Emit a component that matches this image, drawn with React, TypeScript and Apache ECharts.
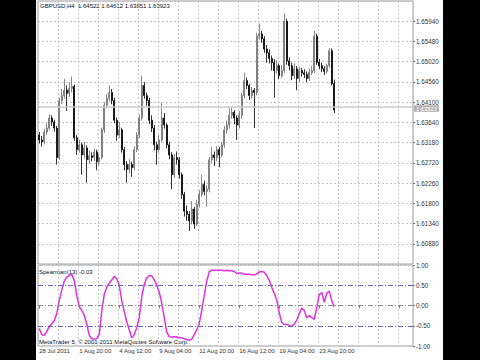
import React, { useEffect, useRef } from 'react';
import * as echarts from 'echarts';

const titleText = 'GBPUSD,H4  1.64522 1.64612 1.63851 1.63923';
const indicatorText = 'Spearman(13) -0.03';
const copyrightText = 'MetaTrader 5, © 2001-2011 MetaQuotes Software Corp.';
const lastPrice = 1.63923;

const timeLabels = ['28 Jul 2011', '1 Aug 20:00', '4 Aug 12:00', '9 Aug 04:00', '11 Aug 20:00', '16 Aug 12:00', '19 Aug 04:00', '23 Aug 20:00'];
const SLOT_COUNT = 150;
const LABEL_STEP = 16;

const opens = [
  1.6335, 1.6324, 1.6320, 1.6342, 1.6351, 1.6374, 1.6365, 1.6351, 1.6284, 1.6414,
  1.6425, 1.6437, 1.6430, 1.6441, 1.6446, 1.6329, 1.6302, 1.6313, 1.6290, 1.6306,
  1.6279, 1.6288, 1.6284, 1.6297, 1.6275, 1.6284, 1.6347, 1.6403, 1.6419, 1.6432,
  1.6414, 1.6369, 1.6335, 1.6347, 1.6302, 1.6268, 1.6257, 1.6268, 1.6261, 1.6302,
  1.6335, 1.6374, 1.6448, 1.6425, 1.6414, 1.6369, 1.6351, 1.6313, 1.6302, 1.6324,
  1.6374, 1.6358, 1.6313, 1.6290, 1.6245, 1.6284, 1.6279, 1.6245, 1.6200, 1.6162,
  1.6155, 1.6140, 1.6167, 1.6133, 1.6178, 1.6200, 1.6223, 1.6207, 1.6212, 1.6279,
  1.6290, 1.6284, 1.6302, 1.6290, 1.6313, 1.6347, 1.6358, 1.6380, 1.6387, 1.6374,
  1.6358, 1.6380, 1.6425, 1.6459, 1.6448, 1.6425, 1.6437, 1.6432, 1.6560, 1.6565,
  1.6554, 1.6531, 1.6522, 1.6509, 1.6500, 1.6482, 1.6493, 1.6470, 1.6482, 1.6594,
  1.6504, 1.6493, 1.6470, 1.6486, 1.6464, 1.6482, 1.6477, 1.6473, 1.6464, 1.6477,
  1.6482, 1.6560, 1.6500, 1.6493, 1.6486, 1.6480, 1.6493, 1.6527, 1.64522,
];

const closes = [
  1.6324, 1.6320, 1.6342, 1.6351, 1.6374, 1.6365, 1.6351, 1.6284, 1.6414, 1.6425,
  1.6437, 1.6430, 1.6441, 1.6446, 1.6329, 1.6302, 1.6313, 1.6290, 1.6306, 1.6279,
  1.6288, 1.6284, 1.6297, 1.6275, 1.6284, 1.6347, 1.6403, 1.6419, 1.6432, 1.6414,
  1.6369, 1.6335, 1.6347, 1.6302, 1.6268, 1.6257, 1.6268, 1.6261, 1.6302, 1.6335,
  1.6374, 1.6448, 1.6425, 1.6414, 1.6369, 1.6351, 1.6313, 1.6302, 1.6324, 1.6374,
  1.6358, 1.6313, 1.6290, 1.6245, 1.6284, 1.6279, 1.6245, 1.6200, 1.6162, 1.6155,
  1.6140, 1.6167, 1.6133, 1.6178, 1.6200, 1.6223, 1.6207, 1.6212, 1.6279, 1.6290,
  1.6284, 1.6302, 1.6290, 1.6313, 1.6347, 1.6358, 1.6380, 1.6387, 1.6374, 1.6358,
  1.6380, 1.6425, 1.6459, 1.6448, 1.6425, 1.6437, 1.6432, 1.6560, 1.6565, 1.6554,
  1.6531, 1.6522, 1.6509, 1.6500, 1.6482, 1.6493, 1.6470, 1.6482, 1.6594, 1.6504,
  1.6493, 1.6470, 1.6486, 1.6464, 1.6482, 1.6477, 1.6473, 1.6464, 1.6477, 1.6482,
  1.6560, 1.6500, 1.6493, 1.6486, 1.6480, 1.6493, 1.6527, 1.64522, 1.63923,
];

const highs = [
  1.6342, 1.6333, 1.6350, 1.6362, 1.6383, 1.6380, 1.6370, 1.6356, 1.6420, 1.6440,
  1.6463, 1.6448, 1.6455, 1.6468, 1.6450, 1.6335, 1.6325, 1.6318, 1.6320, 1.6312,
  1.6300, 1.6296, 1.6305, 1.6302, 1.6292, 1.6352, 1.6410, 1.6428, 1.6448, 1.6440,
  1.6420, 1.6375, 1.6365, 1.6352, 1.6308, 1.6276, 1.6280, 1.6275, 1.6310, 1.6342,
  1.6382, 1.6470, 1.6456, 1.6432, 1.6420, 1.6380, 1.6358, 1.6320, 1.6335, 1.6409,
  1.6385, 1.6362, 1.6320, 1.6296, 1.6292, 1.6298, 1.6285, 1.6250, 1.6206, 1.6175,
  1.6162, 1.6185, 1.6172, 1.6188, 1.6210, 1.6245, 1.6232, 1.6222, 1.6286, 1.6308,
  1.6298, 1.6310, 1.6308, 1.6320, 1.6356, 1.6368, 1.6396, 1.6398, 1.6392, 1.6380,
  1.6390, 1.6432, 1.6477, 1.6466, 1.6452, 1.6445, 1.6442, 1.6568, 1.6589, 1.6572,
  1.6560, 1.6540, 1.6530, 1.6516, 1.6508, 1.6505, 1.6498, 1.6495, 1.6612, 1.6600,
  1.6512, 1.6500, 1.6498, 1.6492, 1.6490, 1.6488, 1.6485, 1.6480, 1.6486, 1.6492,
  1.6572, 1.6566, 1.6508, 1.6500, 1.6492, 1.6498, 1.6533, 1.6532, 1.64612,
];

const lows = [
  1.6316, 1.6309, 1.6314, 1.6335, 1.6346, 1.6356, 1.6343, 1.6268, 1.6279, 1.6405,
  1.6418, 1.6390, 1.6422, 1.6432, 1.6322, 1.6290, 1.6295, 1.6245, 1.6282, 1.6227,
  1.6270, 1.6275, 1.6276, 1.6255, 1.6266, 1.6280, 1.6340, 1.6396, 1.6412, 1.6405,
  1.6362, 1.6322, 1.6328, 1.6295, 1.6255, 1.6227, 1.6248, 1.6240, 1.6255, 1.6296,
  1.6328, 1.6368, 1.6418, 1.6402, 1.6360, 1.6342, 1.6300, 1.6268, 1.6295, 1.6318,
  1.6350, 1.6305, 1.6280, 1.6212, 1.6238, 1.6268, 1.6236, 1.6190, 1.6150, 1.6140,
  1.6117, 1.6132, 1.6122, 1.6128, 1.6170, 1.6195, 1.6198, 1.6172, 1.6205, 1.6272,
  1.6265, 1.6276, 1.6262, 1.6285, 1.6306, 1.6338, 1.6350, 1.6372, 1.6360, 1.6324,
  1.6350, 1.6372, 1.6418, 1.6440, 1.6415, 1.6418, 1.6351, 1.6425, 1.6552, 1.6545,
  1.6522, 1.6500, 1.6498, 1.6482, 1.6420, 1.6475, 1.6462, 1.6465, 1.6476, 1.6495,
  1.6482, 1.6460, 1.6463, 1.6437, 1.6456, 1.6468, 1.6465, 1.6455, 1.6458, 1.6472,
  1.6476, 1.6495, 1.6485, 1.6478, 1.6472, 1.6475, 1.6488, 1.6448, 1.63851,
];

const spearman = [
  -0.57, -0.72, -0.74, -0.64, -0.52, -0.45, -0.38, -0.20, 0.12, 0.38,
  0.60, 0.70, 0.74, 0.77, 0.62, 0.25, -0.02, -0.12, -0.24, -0.45,
  -0.73, -0.82, -0.83, -0.82, -0.72, -0.15, 0.28, 0.45, 0.55, 0.63,
  0.72, 0.66, 0.50, 0.12, -0.15, -0.40, -0.60, -0.80, -0.72, -0.55,
  -0.30, 0.22, 0.52, 0.68, 0.74, 0.73, 0.64, 0.50, 0.33, 0.06,
  -0.30, -0.66, -0.77, -0.78, -0.77, -0.78, -0.79, -0.80, -0.82, -0.84,
  -0.86, -0.83, -0.72, -0.60, -0.45, -0.12, 0.25, 0.60, 0.83, 0.87,
  0.87, 0.87, 0.87, 0.87, 0.86, 0.87, 0.86, 0.86, 0.84, 0.79,
  0.80, 0.80, 0.77, 0.77, 0.77, 0.76, 0.75, 0.78, 0.83, 0.84,
  0.82, 0.74, 0.62, 0.45, 0.30, 0.13, -0.18, -0.42, -0.47, -0.47,
  -0.49, -0.52, -0.46, -0.36, -0.20, -0.06, -0.12, -0.30, -0.25, -0.30,
  -0.34, -0.05, 0.27, 0.32, 0.08, 0.30, 0.36, 0.12, -0.03,
];

const levelLines = [
  { value: 0.5, color: '#6262b8' },
  { value: 0, color: '#8a8a8a' },
  { value: -0.5, color: '#6262b8' },
];

const FONT = '"Liberation Sans", Arial, sans-serif';

export default function App() {
  const ref = useRef<HTMLDivElement>(null);

  useEffect(() => {
    if (!ref.current) return;
    const chart = echarts.init(ref.current, undefined, { renderer: 'svg' });
    const slots = Array.from({ length: SLOT_COUNT }, (_, i) => String(i));
    const candles = opens.map((o, i) => [o, closes[i], lows[i], highs[i]]);
    const gridDash = { show: true, lineStyle: { color: '#c6c6c6', type: [2, 2], width: 1 } };

    chart.setOption({
      animation: false,
      backgroundColor: '#ffffff',
      grid: [
        { left: 2, top: 1, width: 375, height: 263, show: true, borderColor: '#9c9c9c', borderWidth: 1 },
        { left: 2, top: 265, width: 375, height: 81, show: true, borderColor: '#9c9c9c', borderWidth: 1 },
      ],
      xAxis: [
        {
          type: 'category', gridIndex: 0, data: slots, boundaryGap: true,
          axisLine: { show: false }, axisTick: { show: false }, axisLabel: { show: false },
          splitLine: { ...gridDash, interval: 7 },
        },
        {
          type: 'category', gridIndex: 1, data: slots, boundaryGap: true,
          axisLine: { show: false },
          axisTick: { show: true, interval: LABEL_STEP - 1, alignWithLabel: true, length: 3, lineStyle: { color: '#777' } },
          axisLabel: {
            show: true, interval: LABEL_STEP - 1, align: 'left', margin: 2, fontSize: 6, fontFamily: FONT, color: '#333',
            formatter: (_v: string, idx: number) => (idx % LABEL_STEP === 0 ? timeLabels[idx / LABEL_STEP] ?? '' : ''),
          },
          splitLine: { ...gridDash, interval: 7 },
        },
      ],
      yAxis: [
        {
          type: 'value', gridIndex: 0, position: 'right', min: 1.6042, max: 1.6640, interval: 0.0046,
          axisLine: { show: false },
          axisTick: { show: true, length: 2, lineStyle: { color: '#777' } },
          axisLabel: {
            fontSize: 6.3, lineHeight: 7, fontFamily: FONT, color: '#333', margin: 3,
            showMinLabel: false, showMaxLabel: false,
            formatter: (v: number) => v.toFixed(5),
          },
          splitLine: gridDash,
        },
        {
          type: 'value', gridIndex: 1, position: 'right', min: -1, max: 1, interval: 0.5,
          axisLine: { show: false },
          axisTick: { show: true, length: 2, lineStyle: { color: '#777' } },
          axisLabel: { fontSize: 6.3, lineHeight: 7, fontFamily: FONT, color: '#333', margin: 3, formatter: (v: number) => v.toFixed(2) },
          splitLine: { show: false },
        },
      ],
      series: [
        {
          type: 'candlestick', xAxisIndex: 0, yAxisIndex: 0, data: candles, barWidth: 1.6,
          itemStyle: { color: '#c4c4c4', color0: '#000000', borderColor: '#6a6a6a', borderColor0: '#000000', borderWidth: 0.8 },
          markLine: {
            silent: true, symbol: ['none', 'none'], animation: false,
            data: [{ yAxis: lastPrice }],
            lineStyle: { color: '#c8c8c8', width: 1.5, type: 'solid' },
            label: {
              show: true, position: 'end', distance: 1, offset: [0, 2], formatter: lastPrice.toFixed(5),
              color: '#ffffff', backgroundColor: '#b2b2b2', fontSize: 5.8, lineHeight: 6.5, fontFamily: FONT, padding: [0, 2, 0, 2],
            },
          },
        },
        {
          type: 'line', xAxisIndex: 1, yAxisIndex: 1, data: spearman, showSymbol: false, smooth: false,
          lineStyle: { color: '#e030e0', width: 1.5 },
          markLine: {
            silent: true, symbol: ['none', 'none'], animation: false, label: { show: false },
            data: levelLines.map((l) => ({ yAxis: l.value, lineStyle: { color: l.color, type: [5, 2, 1, 2], width: 1 } })),
          },
        },
      ],
      graphic: [
        { type: 'text', left: 4, top: 3, style: { text: titleText, fontSize: 6, fontFamily: FONT, fill: '#111' } },
        { type: 'text', left: 3, top: 269, style: { text: indicatorText, fontSize: 6, fontFamily: FONT, fill: '#111' } },
        { type: 'text', left: 3, top: 339, style: { text: copyrightText, fontSize: 6, fontFamily: FONT, fill: '#111' } },
      ],
    });
    return () => chart.dispose();
  }, []);

  return (
    <div style={{ position: 'fixed', left: 0, top: 0, width: 480, height: 360, background: '#000', overflow: 'hidden' }}>
      <div ref={ref} style={{ position: 'absolute', left: 36, top: 0, width: 407, height: 360 }} />
    </div>
  );
}
